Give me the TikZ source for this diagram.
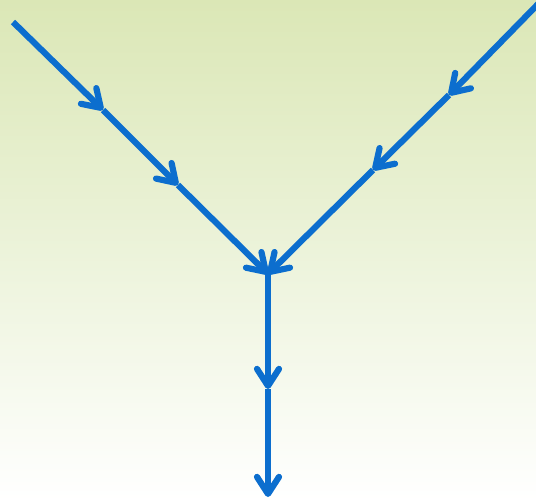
\documentclass[tikz,border=0pt]{standalone}
\usetikzlibrary{arrows.meta}
\definecolor{flowblue}{RGB}{12,110,206}
\definecolor{bgtop}{RGB}{219,231,182}
\definecolor{bgmid}{RGB}{236,243,218}
\tikzset{
  flow/.style={draw=flowblue, line width=6.2pt,
    -{Straight Barb[length=17pt, width=22pt, line cap=round, line join=round]}}
}
\begin{document}
\begin{tikzpicture}[x=1pt,y=-1pt]
  \useasboundingbox (0,0) rectangle (536,501);
  \shade[top color=bgtop, bottom color=white, middle color=bgmid, shading angle=0] (0,0) rectangle (536,501);
  \clip (0,0) rectangle (536,501);
  \coordinate (L0) at (13,22);
  \coordinate (L1) at (103,110);
  \coordinate (L2) at (178,185);
  \coordinate (R0) at (542,0);
  \coordinate (R1) at (449,95);
  \coordinate (R2) at (373,170);
  \coordinate (M) at (268,274);
  \coordinate (D1) at (268,389);
  \coordinate (D2) at (268,497);
  \draw[flow] (L0) -- (L1);
  \draw[flow] (L1) -- (L2);
  \draw[flow] (L2) -- (M);
  \draw[flow] (R0) -- (R1);
  \draw[flow] (R1) -- (R2);
  \draw[flow] (R2) -- (M);
  \draw[flow] (M) -- (D1);
  \draw[flow] (D1) -- (D2);
\end{tikzpicture}
\end{document}
